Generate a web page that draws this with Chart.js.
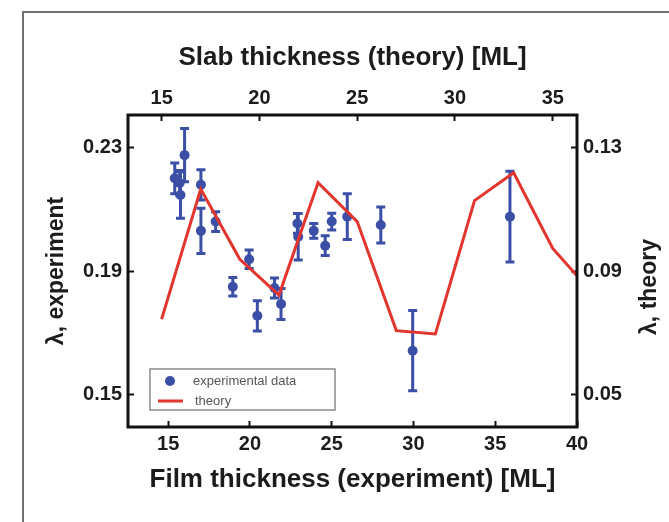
<!DOCTYPE html>
<html>
<head>
<meta charset="utf-8">
<script src="https://cdn.jsdelivr.net/npm/chart.js@4.4.0/dist/chart.umd.min.js"></script>
<style>
  html, body { margin: 0; padding: 0; background: #fff; }
  #wrap { position: relative; width: 669px; height: 522px; }
</style>
</head>
<body>
<div id="wrap"><canvas id="chart" width="669" height="522"></canvas></div>
<script>
// experiment: film thickness [ML] -> lambda, with error bars
const filmThickness = [15.4, 15.7, 15.75, 16.0, 17.0, 17.0, 17.9, 18.95, 19.95, 20.45, 21.5, 21.9, 22.9, 22.95, 23.9, 24.6, 25.0, 25.95, 28.0, 29.95, 35.9];
const lambdaExp     = [0.2200, 0.2185, 0.2146, 0.2275, 0.2179, 0.2030, 0.2060, 0.1849, 0.1938, 0.1755, 0.1845, 0.1793, 0.2054, 0.2011, 0.2030, 0.1982, 0.2060, 0.2076, 0.2049, 0.1642, 0.2076];
const lambdaErr     = [0.0050, 0.0040, 0.0075, 0.0086, 0.0049, 0.0073, 0.0032, 0.0030, 0.0030, 0.0049, 0.0032, 0.0050, 0.0032, 0.0075, 0.0024, 0.0032, 0.0027, 0.0074, 0.0058, 0.0130, 0.0147];

// theory: slab thickness [ML] -> lambda
const slabThickness = [15, 17, 19, 21, 23, 25, 27, 29, 31, 33, 35, 37];
const lambdaTheory  = [0.0744, 0.1165, 0.0938, 0.0822, 0.1186, 0.1060, 0.0707, 0.0696, 0.1128, 0.1218, 0.0973, 0.0830];

// tick labels
const filmTicks   = [15, 20, 25, 30, 35, 40];
const slabTicks   = [15, 20, 25, 30, 35];
const expTicks    = [0.15, 0.19, 0.23];
const theoryTicks = [0.05, 0.09, 0.13];

const FONT = '"Liberation Sans", Arial, sans-serif';
const BLUE = '#3b4fa6';
const RED = '#e2352d';
const INK = '#1c1c1c';

Chart.defaults.font.family = FONT;

const tickFont = { family: FONT, size: 20, weight: 'bold' };
const titleFont = { family: FONT, size: 26, weight: 'bold' };
const inwardTicks = { drawOnChartArea: false, drawTicks: true, tickLength: -6, tickWidth: 2, tickColor: '#111' };

// error bars under the markers
const errorBars = {
    id: 'errorBars',
    beforeDatasetsDraw(chart) {
        const { ctx, scales: { x, y } } = chart;
        ctx.save();
        ctx.strokeStyle = BLUE;
        ctx.lineWidth = 3;
        filmThickness.forEach((t, i) => {
            const px = x.getPixelForValue(t);
            const hi = y.getPixelForValue(lambdaExp[i] + lambdaErr[i]);
            const lo = y.getPixelForValue(lambdaExp[i] - lambdaErr[i]);
            ctx.beginPath();
            ctx.moveTo(px, hi); ctx.lineTo(px, lo);
            ctx.moveTo(px - 4.5, hi); ctx.lineTo(px + 4.5, hi);
            ctx.moveTo(px - 4.5, lo); ctx.lineTo(px + 4.5, lo);
            ctx.stroke();
        });
        ctx.restore();
    }
};

// page frame, plot frame, legend box, right axis title
const decorations = {
    id: 'decorations',
    beforeDraw(chart) {
        const { ctx, width, height } = chart;
        ctx.save();
        ctx.fillStyle = '#fff';
        ctx.fillRect(0, 0, width, height);
        ctx.strokeStyle = '#707070';
        ctx.lineWidth = 2;
        ctx.beginPath();
        ctx.moveTo(23, height);
        ctx.lineTo(23, 12);
        ctx.lineTo(width, 12);
        ctx.stroke();
        ctx.restore();
    },
    afterDatasetsDraw(chart) {
        const { ctx, chartArea: a } = chart;
        ctx.save();
        // legend
        const lx = a.left + 22, ly = a.bottom - 58, lw = 185, lh = 41;
        ctx.fillStyle = '#fff';
        ctx.fillRect(lx, ly, lw, lh);
        ctx.strokeStyle = '#8a8a8a';
        ctx.lineWidth = 1.5;
        ctx.strokeRect(lx, ly, lw, lh);
        ctx.fillStyle = BLUE;
        ctx.beginPath();
        ctx.arc(lx + 20, ly + 12, 5, 0, Math.PI * 2);
        ctx.fill();
        ctx.strokeStyle = RED;
        ctx.lineWidth = 3;
        ctx.beginPath();
        ctx.moveTo(lx + 8, ly + 32);
        ctx.lineTo(lx + 33, ly + 32);
        ctx.stroke();
        ctx.fillStyle = '#555';
        ctx.font = '13px ' + FONT;
        ctx.textBaseline = 'middle';
        ctx.textAlign = 'left';
        ctx.fillText('experimental data', lx + 43, ly + 12);
        ctx.fillText('theory', lx + 45, ly + 32);

        // plot frame
        ctx.strokeStyle = '#111';
        ctx.lineWidth = 3;
        ctx.strokeRect(a.left, a.top, a.right - a.left, a.bottom - a.top);

        // right title, reads bottom to top like the left one
        ctx.translate(650, 287);
        ctx.rotate(-Math.PI / 2);
        ctx.fillStyle = INK;
        ctx.font = 'bold 23px ' + FONT;
        ctx.textAlign = 'center';
        ctx.fillText('λ, theory', 0, 0);
        ctx.restore();
    }
};

new Chart(document.getElementById('chart'), {
    type: 'scatter',
    data: {
        datasets: [
            {
                label: 'experimental data',
                data: filmThickness.map((t, i) => ({ x: t, y: lambdaExp[i] })),
                xAxisID: 'x',
                yAxisID: 'y',
                backgroundColor: BLUE,
                borderColor: BLUE,
                borderWidth: 0,
                pointRadius: 5,
                order: 2
            },
            {
                type: 'line',
                label: 'theory',
                data: slabThickness.map((t, i) => ({ x: t, y: lambdaTheory[i] })),
                xAxisID: 'x2',
                yAxisID: 'y2',
                borderColor: RED,
                borderWidth: 3,
                pointRadius: 0,
                tension: 0,
                fill: false,
                clip: 0,
                order: 1
            }
        ]
    },
    options: {
        responsive: false,
        devicePixelRatio: 1,
        animation: false,
        layout: { padding: 0 },
        plugins: {
            legend: { display: false },
            tooltip: { enabled: false }
        },
        scales: {
            x: {
                type: 'linear', position: 'bottom', min: 12.54, max: 40,
                afterBuildTicks: s => { s.ticks = filmTicks.map(v => ({ value: v })); },
                afterFit: s => { s.height = 95; },
                border: { display: false },
                grid: inwardTicks,
                ticks: { font: tickFont, color: INK, padding: 11, maxRotation: 0, autoSkip: false },
                title: { display: true, text: 'Film thickness (experiment) [ML]', font: titleFont, color: INK, padding: { top: 0, bottom: 27 } }
            },
            x2: {
                type: 'linear', position: 'top', min: 13.28, max: 36.24,
                afterBuildTicks: s => { s.ticks = slabTicks.map(v => ({ value: v })); },
                afterFit: s => { s.height = 115; },
                border: { display: false },
                grid: inwardTicks,
                ticks: { font: tickFont, color: INK, padding: 11, maxRotation: 0, autoSkip: false },
                title: { display: true, text: 'Slab thickness (theory) [ML]', font: titleFont, color: INK, padding: { top: 42, bottom: 0 } }
            },
            y: {
                type: 'linear', position: 'left', min: 0.1395, max: 0.2405,
                afterBuildTicks: s => { s.ticks = expTicks.map(v => ({ value: v })); },
                afterFit: s => { s.width = 128; },
                border: { display: false },
                grid: inwardTicks,
                ticks: { font: tickFont, color: INK, padding: 12, callback: v => v.toFixed(2) },
                title: { display: true, text: 'λ, experiment', font: { family: FONT, size: 23, weight: 'bold' }, color: INK, padding: { top: 43, bottom: 0 } }
            },
            y2: {
                type: 'linear', position: 'right', min: 0.0395, max: 0.1405,
                afterBuildTicks: s => { s.ticks = theoryTicks.map(v => ({ value: v })); },
                afterFit: s => { s.width = 92; },
                border: { display: false },
                grid: inwardTicks,
                ticks: { font: tickFont, color: INK, padding: 12, callback: v => v.toFixed(2) }
            }
        }
    },
    plugins: [errorBars, decorations]
});
</script>
</body>
</html>
